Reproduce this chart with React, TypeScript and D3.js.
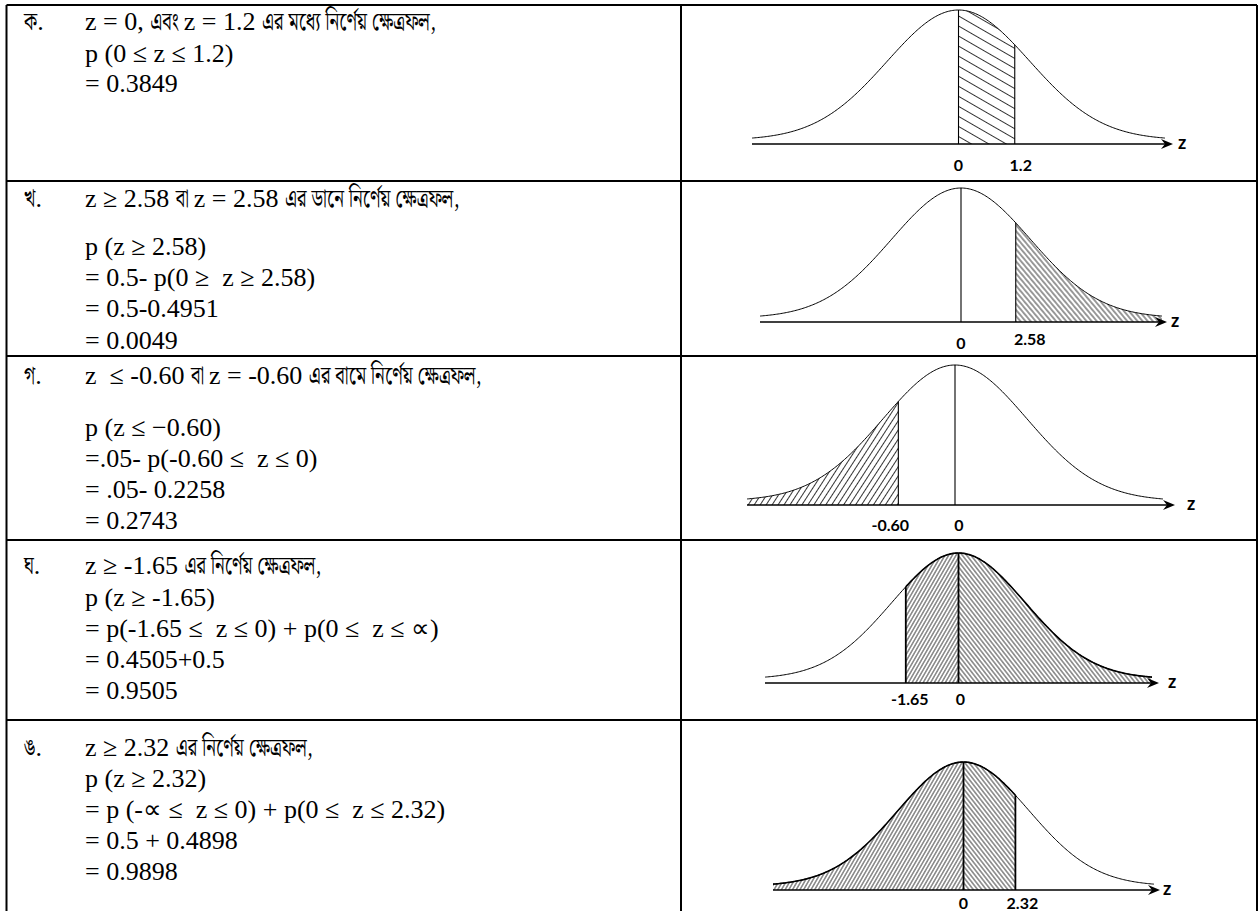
import React from "react";
import * as d3 from "d3";

// ---------- data ----------
const rowLabels = ["ক.", "খ.", "গ.", "ঘ.", "ঙ."];
const headLines = [
  "z = 0, এবং z = 1.2 এর মধ্যে নির্ণেয় ক্ষেত্রফল,",
  "z ≥ 2.58 বা z = 2.58 এর ডানে নির্ণেয় ক্ষেত্রফল,",
  "z  ≤ -0.60 বা z = -0.60 এর বামে নির্ণেয় ক্ষেত্রফল,",
  "z ≥ -1.65 এর নির্ণেয় ক্ষেত্রফল,",
  "z ≥ 2.32 এর নির্ণেয় ক্ষেত্রফল,",
];
const workA = ["p (0 ≤ z ≤ 1.2)", "= 0.3849"];
const workB = ["p (z ≥ 2.58)", "= 0.5- p(0 ≥  z ≥ 2.58)", "= 0.5-0.4951", "= 0.0049"];
const workC = ["p (z ≤ −0.60)", "=.05- p(-0.60 ≤  z ≤ 0)", "= .05- 0.2258", "= 0.2743"];
const workD = ["p (z ≥ -1.65)", "= p(-1.65 ≤  z ≤ 0) + p(0 ≤  z ≤ ∝)", "= 0.4505+0.5", "= 0.9505"];
const workE = ["p (z ≥ 2.32)", "= p (-∝ ≤  z ≤ 0) + p(0 ≤  z ≤ 2.32)", "= 0.5 + 0.4898", "= 0.9898"];
const workLines = [workA, workB, workC, workD, workE];

// drawn positions of the cut lines (in curve sigma units) and their labels
const curveSpan = [-2.9, 2.9];
const cutValues = [[0, 0.79], [0, 0.79], [-0.79, 0], [-0.79, 0], [0, 0.79]];
const cutLabels = [["0", "1.2"], ["0", "2.58"], ["-0.60", "0"], ["-1.65", "0"], ["0", "2.32"]];
// shaded spans: [from, to, hatch]
const shadedSpans: [number, number, string][][] = [
  [[0, 0.79, "wide"]],
  [[0.79, 2.9, "back"]],
  [[-2.9, -0.79, "fwd"]],
  [[-0.79, 0, "fwdDense"], [0, 2.9, "backDense"]],
  [[-2.9, 0, "fwdDense"], [0, 0.79, "backDense"]],
];

// ---------- layout ----------
const W = 1260, H = 911;
const tableTop = 5;
const rowSeps = [181, 356, 540, 720];
const colX = [6.5, 681, 1257];
const labelX = 24, textX = 85;
const rowBaselines = [
  [30, 62, 92],
  [207, 255, 286, 317, 349],
  [384, 436, 467, 498, 529],
  [574, 606, 637, 668, 699],
  [756, 787, 818, 849, 880],
];
const chartBox = [
  { x0: 752, x1: 1165, peak: 10, axis: 144, tip: 1173, zx: 1178, labY: 171, dx: [0, 6], dy: [0, 0] },
  { x0: 760, x1: 1162, peak: 188, axis: 322, tip: 1167, zx: 1171, labY: 349, dx: [0, 14], dy: [0, -4] },
  { x0: 747, x1: 1163, peak: 365, axis: 505, tip: 1175, zx: 1187, labY: 531, dx: [-8, 4], dy: [0, 0] },
  { x0: 765, x1: 1152, peak: 553, axis: 683, tip: 1159, zx: 1168, labY: 705, dx: [4, 2], dy: [0, 0] },
  { x0: 773, x1: 1154, peak: 762, axis: 890, tip: 1160, zx: 1163, labY: 909, dx: [0, 7], dy: [0, 0] },
];
const hatches: Record<string, { s: number; a: number }> = {
  wide: { s: 8.7, a: -60 },
  back: { s: 3.9, a: -40 },
  fwd: { s: 5.0, a: 33 },
  fwdDense: { s: 3.2, a: 30 },
  backDense: { s: 3.4, a: -38 },
};

const serif = "'Liberation Serif', 'Times New Roman', serif";
const bengali = "'Noto Serif Bengali', 'Noto Sans Bengali', 'Lohit Bengali', FreeSerif, serif";
const sans = "Lato, 'Open Sans', 'DejaVu Sans', sans-serif";
const latinSize = 26;
const bengaliSize = 26;
const bengaliSqueeze = 0.72;

const density = (z: number) => Math.exp(-(z * z) / 2);

let measureCtx: CanvasRenderingContext2D | null = null;
function measure(t: string, size: number, family: string) {
  if (!measureCtx) measureCtx = document.createElement("canvas").getContext("2d");
  if (!measureCtx) return t.length * size * 0.5;
  measureCtx.font = `${size}px ${family}`;
  return measureCtx.measureText(t).width;
}

function runs(s: string) {
  const out: { bn: boolean; t: string }[] = [];
  for (const ch of Array.from(s)) {
    const bn = /[\u0980-\u09FF]/.test(ch);
    const neutral = ch === " " || ch === ",";
    const last = out[out.length - 1];
    if (last && (neutral || last.bn === bn)) last.t += ch;
    else out.push({ bn, t: ch });
  }
  return out;
}

function Line({ x, y, s }: { x: number; y: number; s: string }) {
  let cx = x;
  const parts = runs(s).map((r) => {
    const px = cx;
    if (r.bn) {
      cx += measure(r.t, bengaliSize, bengali) * bengaliSqueeze;
    } else {
      cx += measure(r.t, latinSize, serif);
    }
    return { ...r, px };
  });
  return (
    <g fill="#000">
      {parts.map((r, k) =>
        r.bn ? (
          <text
            key={k}
            transform={`translate(${r.px},${y}) scale(${bengaliSqueeze},1)`}
            fontFamily={bengali}
            fontSize={bengaliSize}
            xmlSpace="preserve"
            style={{ whiteSpace: "pre" }}
          >
            {r.t}
          </text>
        ) : (
          <text
            key={k}
            x={r.px}
            y={y}
            fontFamily={serif}
            fontSize={latinSize}
            xmlSpace="preserve"
            style={{ whiteSpace: "pre" }}
          >
            {r.t}
          </text>
        )
      )}
    </g>
  );
}

function Chart({ i }: { i: number }) {
  const b = chartBox[i];
  const x = d3.scaleLinear().domain(curveSpan).range([b.x0, b.x1]);
  const y = d3.scaleLinear().domain([0, 1]).range([b.axis - 4, b.peak]);
  const grid = (a: number, c: number) => {
    const n = Math.max(2, Math.ceil((c - a) / 0.02));
    return d3.range(n + 1).map((k) => a + ((c - a) * k) / n);
  };
  const line = d3.line<number>().x((z) => x(z)).y((z) => y(density(z))).curve(d3.curveBasis);
  const area = d3
    .area<number>()
    .x((z) => x(z))
    .y0(b.axis)
    .y1((z) => y(density(z)));
  const dense = i >= 3;
  return (
    <g>
      {shadedSpans[i].map(([a, c, h], k) => (
        <path key={"s" + k} d={area(grid(a, c)) || ""} fill={`url(#h-${h})`} stroke="none" />
      ))}
      {dense &&
        shadedSpans[i].map(([a, c], k) => (
          <path key={"o" + k} d={line(grid(a, c)) || ""} fill="none" stroke="#000" strokeWidth={1.6} />
        ))}
      <path d={line(grid(curveSpan[0], curveSpan[1])) || ""} fill="none" stroke="#000" strokeWidth={1} />
      {cutValues[i].map((v, k) => (
        <line
          key={"c" + k}
          x1={x(v)}
          x2={x(v)}
          y1={b.axis}
          y2={y(density(v))}
          stroke="#000"
          strokeWidth={dense ? 1.8 : 1.1}
        />
      ))}
      <line x1={b.x0} x2={b.tip - 8} y1={b.axis} y2={b.axis} stroke="#000" strokeWidth={1.3} />
      <path
        d={`M${b.tip},${b.axis} L${b.tip - 12},${b.axis - 5} L${b.tip - 8},${b.axis} L${b.tip - 12},${b.axis + 5} Z`}
        fill="#000"
      />
      <text x={b.zx} y={b.axis + 5} fontFamily={sans} fontWeight={700} fontSize={18}>
        z
      </text>
      {cutLabels[i].map((t, k) => (
        <text
          key={"l" + k}
          x={x(cutValues[i][k]) + b.dx[k]}
          y={b.labY + b.dy[k]}
          textAnchor="middle"
          fontFamily={sans}
          fontWeight={700}
          fontSize={16}
        >
          {t}
        </text>
      ))}
    </g>
  );
}

export default function App() {
  return (
    <svg width={W} height={H} style={{ position: "absolute", left: 0, top: 0, background: "#fff" }}>
      <defs>
        {Object.entries(hatches).map(([k, h]) => (
          <pattern
            key={k}
            id={`h-${k}`}
            width={h.s}
            height={20}
            patternUnits="userSpaceOnUse"
            patternTransform={`rotate(${h.a})`}
          >
            <line x1={h.s / 2} y1={0} x2={h.s / 2} y2={20} stroke="#000" strokeWidth={0.8} />
          </pattern>
        ))}
      </defs>
      <rect x={0} y={0} width={W} height={H} fill="#fff" />
      {/* table grid */}
      <line x1={colX[0]} x2={colX[2]} y1={tableTop} y2={tableTop} stroke="#000" strokeWidth={2} />
      {rowSeps.map((s) => (
        <line key={s} x1={colX[0]} x2={colX[2]} y1={s} y2={s} stroke="#000" strokeWidth={2} />
      ))}
      {colX.map((c) => (
        <line key={c} x1={c} x2={c} y1={tableTop} y2={H} stroke="#000" strokeWidth={2} />
      ))}
      {/* text column */}
      {rowLabels.map((lab, i) => (
        <g key={lab}>
          <Line x={labelX} y={rowBaselines[i][0]} s={lab} />
          <Line x={textX} y={rowBaselines[i][0]} s={headLines[i]} />
          {workLines[i].map((t, k) => (
            <Line key={k} x={textX} y={rowBaselines[i][k + 1]} s={t} />
          ))}
        </g>
      ))}
      {/* charts */}
      {chartBox.map((_, i) => (
        <Chart key={i} i={i} />
      ))}
    </svg>
  );
}
